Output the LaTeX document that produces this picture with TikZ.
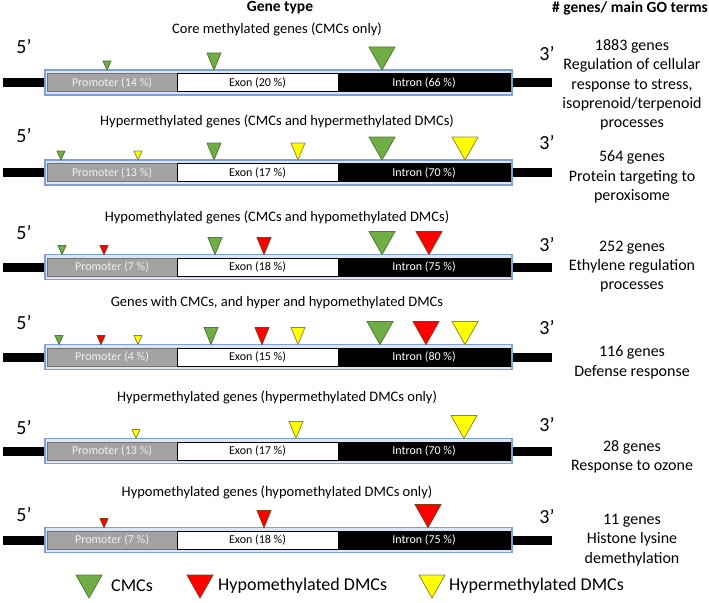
\documentclass[tikz,border=0pt]{standalone}
\usepackage{fontspec}
\setmainfont{Carlito}
\usetikzlibrary{positioning,calc}
\definecolor{boxblue}{HTML}{7F9FD9}
\definecolor{boxfill}{HTML}{DCE5F4}
\definecolor{promgrey}{HTML}{A3A3A3}
\definecolor{cmcgreen}{HTML}{70AD47}
\definecolor{cmcedge}{HTML}{4F7B31}
\definecolor{hypored}{HTML}{FF0000}
\definecolor{hypoedge}{HTML}{8A3B12}
\definecolor{hyperyel}{HTML}{FFFF00}
\definecolor{hyperedge}{HTML}{8C8A2E}
\tikzset{
  genebox/.style={draw=boxblue, fill=boxfill, line width=1.3pt, minimum width=467pt, minimum height=25pt, inner sep=0pt},
  seg/.style={minimum height=18pt, inner sep=0pt, line width=0.6pt, font=\fontsize{12}{14}\selectfont},
  promseg/.style={seg, fill=promgrey, draw=promgrey!70!black, minimum width=130pt, text=white!94!black},
  exonseg/.style={seg, fill=white, draw=black, minimum width=161pt, text=black},
  intrseg/.style={seg, fill=black, draw=black, minimum width=172pt, text=white},
  backbone/.style={draw=black, line width=9pt},
  endlabel/.style={font=\fontsize{20}{24}\selectfont},
  rowtitle/.style={font=\fontsize{14.5}{17}\selectfont},
  header/.style={font=\bfseries\fontsize{15.5}{18}\selectfont},
  goterms/.style={font=\fontsize{16}{19.3}\selectfont, align=center},
  legendtext/.style={font=\fontsize{18}{21}\selectfont, anchor=west, inner sep=0pt},
  cmc/.style={fill=cmcgreen, draw=cmcedge, line width=0.8pt},
  hypo/.style={fill=hypored, draw=hypoedge, line width=0.8pt},
  hyper/.style={fill=hyperyel, draw=hyperedge, line width=0.8pt},
  pics/smallmark/.style={code={\draw[pic actions] (0,0) -- (-4,-9) -- (4,-9) -- cycle;}},
  pics/midmark/.style={code={\draw[pic actions] (0,0) -- (-7,-17) -- (7,-17) -- cycle;}},
  pics/bigmark/.style={code={\draw[pic actions] (0,0) -- (-13,-23) -- (13,-23) -- cycle;}}
}

\begin{document}
\begin{tikzpicture}[x=1pt, y=-1pt]
  \useasboundingbox (0,0) rectangle (709,602);

  % headers
  \node[header] (gtype) at (280,8) {Gene type};
  \node[header] (gocol) at (630,8) {\# genes/ main GO terms};

  % gene bars
  \foreach \i/\yc/\pp/\ep/\ip in {1/82.5/14/20/66, 2/172.5/13/17/70, 3/267/7/18/75,
      4/357/4/15/80, 5/451/13/17/70, 6/540/7/18/75}{
    \node[genebox] (gene\i) at (278.5,\yc) {};
    \coordinate (left\i) at (3,\yc);
    \coordinate (right\i) at (552,\yc);
    \draw[backbone] (left\i) -- (gene\i.west);
    \draw[backbone] (gene\i.east) -- (right\i);
    \node[promseg] (prom\i) at (112,\yc) {Promoter (\pp\ \%)};
    \node[exonseg] (exon\i) at (257.5,\yc) {Exon (\ep\ \%)};
    \node[intrseg] (intr\i) at (424,\yc) {Intron (\ip\ \%)};
  }

  % row titles
  \node[rowtitle] (title1) at (277,29) {Core methylated genes (CMCs only)};
  \node[rowtitle] (title2) at (277,121) {Hypermethylated genes (CMCs and hypermethylated DMCs)};
  \node[rowtitle] (title3) at (277,217) {Hypomethylated genes (CMCs and hypomethylated DMCs)};
  \node[rowtitle] (title4) at (277,303) {Genes with CMCs, and hyper and hypomethylated DMCs};
  \node[rowtitle] (title5) at (277,397) {Hypermethylated genes (hypermethylated DMCs only)};
  \node[rowtitle] (title6) at (277,492) {Hypomethylated genes (hypomethylated DMCs only)};

  % 5' and 3' ends
  \node[endlabel] (five1) at (24,47) {5’};
  \node[endlabel] (five2) at (24,136) {5’};
  \node[endlabel] (five3) at (24,233) {5’};
  \node[endlabel] (five4) at (24,323) {5’};
  \node[endlabel] (five5) at (24,428) {5’};
  \node[endlabel] (five6) at (24,515) {5’};
  \node[endlabel] (three1) at (547,54) {3’};
  \node[endlabel] (three2) at (547,143) {3’};
  \node[endlabel] (three3) at (547,245) {3’};
  \node[endlabel] (three4) at (547,328) {3’};
  \node[endlabel] (three5) at (547,425) {3’};
  \node[endlabel] (three6) at (547,517) {3’};

  % GO terms
  \node[goterms] (go1) at (632,85) {1883 genes\\Regulation of cellular\\response to stress,\\isoprenoid/terpenoid\\processes};
  \node[goterms] (go2) at (632,177) {564 genes\\Protein targeting to\\peroxisome};
  \node[goterms] (go3) at (632,266.5) {252 genes\\Ethylene regulation\\processes};
  \node[goterms] (go4) at (632,362.5) {116 genes\\Defense response};
  \node[goterms] (go5) at (632,456.5) {28 genes\\Response to ozone};
  \node[goterms] (go6) at (632,540) {11 genes\\Histone lysine\\demethylation};

  % methylation marks
  \pic[cmc] at (107,70) {smallmark};
  \pic[cmc] at (214,70) {midmark};
  \pic[cmc] at (382,70) {bigmark};

  \pic[cmc] at (61,160) {smallmark};
  \pic[hyper] at (138,160) {smallmark};
  \pic[cmc] at (214,160) {midmark};
  \pic[hyper] at (298,160) {midmark};
  \pic[cmc] at (382,160) {bigmark};
  \pic[hyper] at (465,160) {bigmark};

  \pic[cmc] at (62,254.5) {smallmark};
  \pic[hypo] at (104,254.5) {smallmark};
  \pic[cmc] at (215,254.5) {midmark};
  \pic[hypo] at (264,254.5) {midmark};
  \pic[cmc] at (382,254.5) {bigmark};
  \pic[hypo] at (429,254.5) {bigmark};

  \pic[cmc] at (59,344.5) {smallmark};
  \pic[hypo] at (101,344.5) {smallmark};
  \pic[hyper] at (138,344.5) {smallmark};
  \pic[cmc] at (211,344.5) {midmark};
  \pic[hypo] at (262,344.5) {midmark};
  \pic[hyper] at (298,344.5) {midmark};
  \pic[cmc] at (380,344.5) {bigmark};
  \pic[hypo] at (426,344.5) {bigmark};
  \pic[hyper] at (465,344.5) {bigmark};

  \pic[hyper] at (136,438.5) {smallmark};
  \pic[hyper] at (296,438.5) {midmark};
  \pic[hyper] at (464,438.5) {bigmark};

  \pic[hypo] at (104,527.5) {smallmark};
  \pic[hypo] at (264,527.5) {midmark};
  \pic[hypo] at (428,527.5) {bigmark};

  % legend
  \pic[cmc] at (89,598) {bigmark};
  \pic[hypo] at (200,598) {bigmark};
  \pic[hyper] at (432,598) {bigmark};
  \node[legendtext] (legcmc) at (111,586) {CMCs};
  \node[legendtext] (leghypo) at (218,586) {Hypomethylated DMCs};
  \node[legendtext] (leghyper) at (449,586) {Hypermethylated DMCs};
\end{tikzpicture}
\end{document}
